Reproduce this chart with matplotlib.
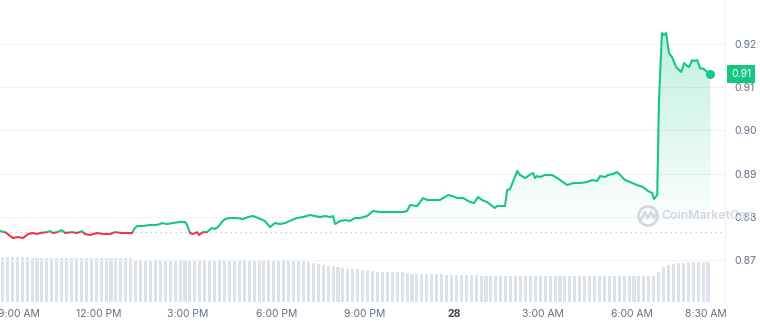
import numpy as np
import matplotlib
matplotlib.use("Agg")
import matplotlib.pyplot as plt
from matplotlib.path import Path
from matplotlib.patches import Rectangle, Circle
from matplotlib.lines import Line2D
from matplotlib.transforms import ScaledTranslation

# hours since 8:40 AM (27th)
hours = [
    0.00, 0.17, 0.30, 0.44, 0.61, 0.78, 0.95, 1.11, 1.25, 1.35,
    1.59, 1.69, 1.79, 1.93, 2.03, 2.09, 2.20, 2.43, 2.60, 2.77,
    2.87, 3.04, 3.28, 3.48, 3.72, 3.89, 4.12, 4.29, 4.46, 4.53,
    4.63, 4.83, 5.07, 5.27, 5.41, 5.47, 5.64, 5.84, 6.08, 6.25,
    6.32, 6.42, 6.52, 6.66, 6.72, 6.86, 6.99, 7.16, 7.26, 7.36,
    7.50, 7.60, 7.77, 8.01, 8.21, 8.38, 8.55, 8.72, 8.95, 9.12,
    9.29, 9.46, 9.63, 9.86, 10.03, 10.24, 10.47, 10.64, 10.81, 10.98,
    11.15, 11.25, 11.32, 11.49, 11.66, 11.82, 11.99, 12.16, 12.40, 12.60,
    12.84, 13.07, 13.28, 13.45, 13.61, 13.75, 13.85, 14.09, 14.29, 14.43,
    14.63, 14.86, 15.14, 15.27, 15.44, 15.64, 15.88, 16.01, 16.15, 16.28,
    16.45, 16.72, 16.79, 17.06, 17.13, 17.23, 17.47, 17.57, 17.74, 17.94,
    18.01, 18.07, 18.14, 18.24, 18.41, 18.65, 18.82, 18.92, 19.16, 19.36,
    19.59, 19.83, 20.00, 20.17, 20.27, 20.44, 20.54, 20.71, 20.84, 20.95,
    21.11, 21.28, 21.52, 21.72, 21.89, 22.03, 22.09, 22.20, 22.26, 22.36,
    22.43, 22.50, 22.60, 22.70, 22.84, 22.94, 23.01, 23.11, 23.21, 23.28,
    23.38, 23.45, 23.55, 23.65, 23.78, 23.89, 24.00,
]
price = [
    0.87671, 0.87648, 0.87579, 0.87509, 0.87532, 0.87509, 0.87602, 0.87625, 0.87602, 0.87625,
    0.87648, 0.87671, 0.87625, 0.87648, 0.87671, 0.87694, 0.87625, 0.87648, 0.87625, 0.87671,
    0.87602, 0.87579, 0.87625, 0.87602, 0.87602, 0.87648, 0.87625, 0.87625, 0.87625, 0.87718,
    0.87787, 0.87787, 0.87810, 0.87810, 0.87833, 0.87856, 0.87833, 0.87856, 0.87880, 0.87880,
    0.87810, 0.87625, 0.87602, 0.87648, 0.87579, 0.87648, 0.87648, 0.87741, 0.87718, 0.87764,
    0.87880, 0.87949, 0.87972, 0.87972, 0.87949, 0.87995, 0.88019, 0.87972, 0.87903, 0.87764,
    0.87856, 0.87833, 0.87856, 0.87926, 0.87972, 0.87995, 0.88042, 0.88019, 0.87995, 0.88019,
    0.87995, 0.88019, 0.87833, 0.87903, 0.87926, 0.87903, 0.87972, 0.87972, 0.88019, 0.88134,
    0.88111, 0.88111, 0.88111, 0.88111, 0.88111, 0.88134, 0.88273, 0.88250, 0.88435, 0.88389,
    0.88389, 0.88389, 0.88505, 0.88481, 0.88435, 0.88435, 0.88343, 0.88319, 0.88458, 0.88389,
    0.88343, 0.88204, 0.88250, 0.88250, 0.88620, 0.88644, 0.89060, 0.88968, 0.88898, 0.88991,
    0.89014, 0.88898, 0.88944, 0.88921, 0.88968, 0.88968, 0.88898, 0.88852, 0.88736, 0.88782,
    0.88782, 0.88806, 0.88852, 0.88829, 0.88944, 0.88921, 0.88968, 0.88991, 0.89037, 0.88968,
    0.88852, 0.88806, 0.88736, 0.88690, 0.88597, 0.88551, 0.88412, 0.88505, 0.90704, 0.92255,
    0.92208, 0.92255, 0.91792, 0.91699, 0.91468, 0.91398, 0.91352, 0.91560, 0.91491, 0.91468,
    0.91630, 0.91606, 0.91630, 0.91444, 0.91421, 0.91352, 0.91306,
]
open_price = 0.87660

# volume, 10-minute bars (millions)
volume = [
    4.5, 4.5, 4.5, 4.5, 4.5, 4.5, 4.4, 4.4, 4.4, 4.4, 4.4, 4.4,
    4.4, 4.4, 4.4, 4.4, 4.4, 4.4, 4.4, 4.4, 4.4, 4.4, 4.4, 4.4,
    4.4, 4.4, 4.4, 4.2, 4.2, 4.2, 4.2, 4.2, 4.2, 4.2, 4.2, 4.2,
    4.2, 4.2, 4.2, 4.2, 4.2, 4.2, 4.2, 4.2, 4.2, 4.2, 4.2, 4.2,
    4.2, 4.2, 4.1, 4.1, 4.1, 4.1, 4.1, 4.1, 4.1, 4.1, 4.1, 4.1,
    4.1, 4.1, 4.05, 3.95, 3.85, 3.75, 3.65, 3.6, 3.55, 3.45, 3.35, 3.3,
    3.3, 3.25, 3.2, 3.15, 3.05, 3.0, 3.0, 3.0, 3.0, 3.0, 2.95, 2.8,
    2.8, 2.8, 2.8, 2.8, 2.8, 2.8, 2.75, 2.7, 2.7, 2.7, 2.7, 2.7,
    2.7, 2.65, 2.6, 2.6, 2.6, 2.6, 2.6, 2.6, 2.6, 2.6, 2.6, 2.6,
    2.6, 2.6, 2.6, 2.6, 2.6, 2.6, 2.6, 2.6, 2.6, 2.6, 2.6, 2.6,
    2.6, 2.6, 2.6, 2.6, 2.6, 2.6, 2.6, 2.6, 2.6, 2.6, 2.6, 2.6,
    2.6, 3.0, 3.5, 3.75, 3.85, 3.9, 3.95, 4.0, 4.0, 4.0, 4.0, 4.0,
]

tick_hours = [0.333, 3.333, 6.333, 9.333, 12.333, 15.333, 18.333, 21.333, 23.833]
tick_labels = ["9:00 AM", "12:00 PM", "3:00 PM", "6:00 PM", "9:00 PM", "28",
               "3:00 AM", "6:00 AM", "8:30 AM"]
price_ticks = [0.87, 0.88, 0.89, 0.90, 0.91, 0.92]

green = "#16c784"
red = "#ea3943"
grey_txt = "#616e85"
mark_col = "#d3d8e3"

plt.rcParams["font.family"] = ["Inter", "DejaVu Sans"]

t = np.array(hours)
p = np.array(price)

fig = plt.figure(figsize=(7.6, 3.24), dpi=100)
rect = [0, 22 / 324, 725 / 760, 302 / 324]

# volume bars underneath
axv = fig.add_axes(rect)
bar_t = (np.arange(len(volume)) + 0.5) / 6
axv.bar(bar_t, volume, width=0.62 / 6, color="#dde1ea", linewidth=0)
axv.set_xlim(0, 24.49)
axv.set_ylim(0, 30.2)
axv.axis("off")

# price chart
ax = fig.add_axes(rect)
ax.patch.set_alpha(0)
ax.set_xlim(0, 24.49)
ax.set_ylim(0.86028, 0.93019)

ax.grid(axis="y", color="#f0f2f5", lw=0.8)
ax.set_axisbelow(True)

# gradient fill above the open price
poly = ax.fill_between(t, np.maximum(p, open_price), open_price, color="none", lw=0)
clip = Path.make_compound_path(*poly.get_paths())
grad = np.zeros((256, 1, 4))
grad[..., 0], grad[..., 1], grad[..., 2] = 22 / 255, 199 / 255, 132 / 255
grad[:, 0, 3] = np.linspace(0, 0.27, 256)
im = ax.imshow(grad, extent=[0, 24.2, open_price, 0.9225], origin="lower",
               aspect="auto", interpolation="bilinear", zorder=1)
im.set_clip_path(clip, transform=ax.transData)

ax.axhline(open_price, color="#c3c9d4", lw=1, dashes=(1, 2.6), zorder=1.5)

lg, = ax.plot(t, p, color=green, lw=1.5, zorder=3, solid_joinstyle="round")
lg.set_clip_path(Rectangle((0, open_price), 30, 1, transform=ax.transData))
lr, = ax.plot(t, p, color=red, lw=1.5, zorder=3, solid_joinstyle="round")
lr.set_clip_path(Rectangle((0, 0.5), 30, open_price - 0.5, transform=ax.transData))
ax.plot(t[-1], p[-1], "o", color=green, ms=5.5, zorder=4)

for s in ["top", "left", "bottom"]:
    ax.spines[s].set_visible(False)
ax.spines["right"].set_color("#eff1f4")
ax.spines["right"].set_linewidth(0.8)

ax.yaxis.tick_right()
ax.set_yticks(price_ticks)
ax.set_yticklabels([f"{v:.2f}" for v in price_ticks])
ax.tick_params(axis="y", length=0, pad=7, labelsize=7.5, labelcolor=grey_txt)
ax.set_xticks(tick_hours)
ax.set_xticklabels(tick_labels)
ax.tick_params(axis="x", length=0, pad=5, labelsize=7.5, labelcolor=grey_txt)
xlabs = ax.get_xticklabels()
for lab in xlabs:
    if lab.get_text() == "28":
        lab.set_fontweight("bold")
        lab.set_color("#3b4252")
# first label is pushed inside the chart edge
xlabs[0].set_horizontalalignment("left")
xlabs[0].set_transform(xlabs[0].get_transform()
                       + ScaledTranslation(-12 / 100, 0, fig.dpi_scale_trans))

ax.annotate(f"{p[-1]:.2f}", xy=(1, p[-1]), xycoords=("axes fraction", "data"),
            xytext=(4.5, 0), textcoords="offset points", ha="left", va="center",
            color="white", fontsize=7.5, annotation_clip=False, zorder=6,
            bbox=dict(boxstyle="square,pad=0.38", fc=green, ec="none"))

# watermark
fig.text(661 / 760, 1 - 216 / 324, "CoinMarketCap", fontsize=8.8, color=mark_col,
         fontweight="semibold", va="center", ha="left", zorder=10)
fig.add_artist(Circle((648, 108), 9.5, transform=None, fill=False, ec=mark_col,
                      lw=2, zorder=10))
fig.add_artist(Line2D([641, 645, 648, 651, 654, 656], [104, 112, 106, 112, 106, 110],
                      transform=None, color=mark_col, lw=1.8, zorder=10))

fig.savefig("out.png", dpi=100)
